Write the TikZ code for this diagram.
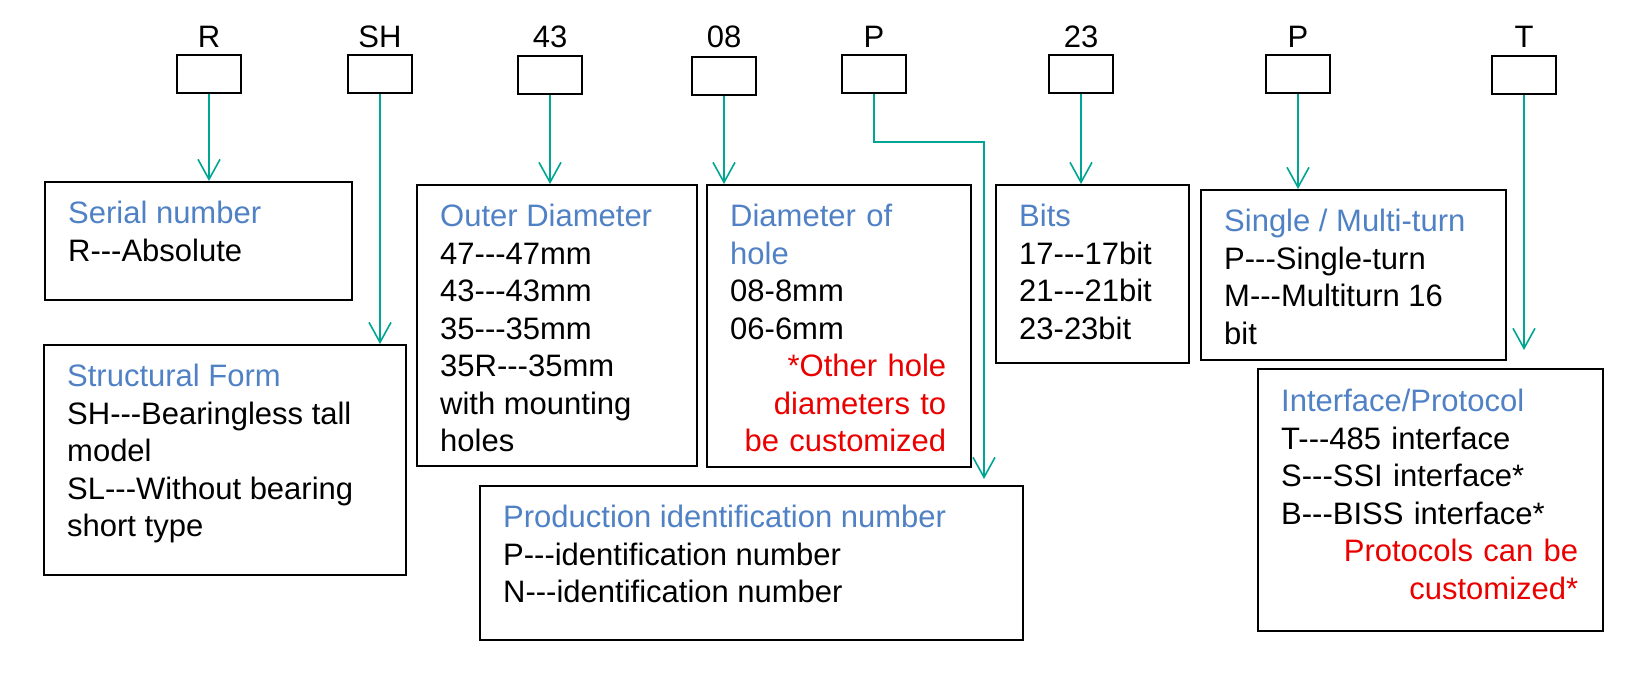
\documentclass[tikz,border=0pt]{standalone}
\usepackage{fontspec}
\setmainfont{Liberation Sans}[Ligatures=NoCommon]
\usetikzlibrary{arrows.meta}
\definecolor{hblue}{RGB}{79,129,196}
\definecolor{teal2}{RGB}{0,166,147}
\definecolor{hred}{RGB}{235,0,0}
\tikzset{
  codebox/.style={draw, line width=2pt, minimum width=64pt, minimum height=38pt, inner sep=0},
  codelbl/.style={font=\fontsize{31pt}{36pt}\selectfont, inner sep=0},
  cbox/.style={draw, line width=2pt, anchor=north west, inner sep=0},
  txt/.style={anchor=north west, inner sep=0, align=left, font=\fontsize{31pt}{37.5pt}\selectfont},
  arr/.style={draw=teal2, line width=1.8pt, -{Straight Barb[length=20pt,width=22pt,line width=1.6pt]}}
}
\newcommand{\hd}[1]{\textcolor{hblue}{#1}}
\newcommand{\rd}[1]{\hspace*{\fill}\textcolor{hred}{#1}}
\newcommand{\dd}{-{}-{}-}
\begin{document}
\begin{tikzpicture}[x=1pt,y=-1pt]
\useasboundingbox (0,0) rectangle (1648,676);
% code boxes
\node[codebox] (bR)  at (209,74) {};
\node[codebox] (bSH) at (380,74) {};
\node[codebox] (b43) at (550,75) {};
\node[codebox] (b08) at (724,76) {};
\node[codebox] (bP)  at (874,74) {};
\node[codebox] (b23) at (1081,74) {};
\node[codebox] (bP2) at (1298,74) {};
\node[codebox] (bT)  at (1524,75) {};
\node[codelbl] (lR)  at (209,37) {R};
\node[codelbl] (lSH) at (380,37) {SH};
\node[codelbl] (l43) at (550,37) {43};
\node[codelbl] (l08) at (724,37) {08};
\node[codelbl] (lP)  at (874,37) {P};
\node[codelbl] (l23) at (1081,37) {23};
\node[codelbl] (lP2) at (1298,37) {P};
\node[codelbl] (lT)  at (1524,37) {T};
% content boxes
\node[cbox, minimum width=307pt, minimum height=118pt] (serial) at (44,181) {};
\node[cbox, minimum width=362pt, minimum height=230pt] (struct) at (43,344) {};
\node[cbox, minimum width=280pt, minimum height=281pt] (outer) at (416,184) {};
\node[cbox, minimum width=264pt, minimum height=282pt] (diam) at (706,184) {};
\node[cbox, minimum width=543pt, minimum height=154pt] (prod) at (479,485) {};
\node[cbox, minimum width=193pt, minimum height=178pt] (bits) at (995,184) {};
\node[cbox, minimum width=305pt, minimum height=170pt] (single) at (1200,189) {};
\node[cbox, minimum width=345pt, minimum height=262pt] (iface) at (1257,368) {};
% texts
\node[txt] (tserial) at ([shift={(24,20)}]serial.north west) {\hd{Serial number}\\R\dd Absolute};
\node[txt] (tstruct) at ([shift={(24,20)}]struct.north west) {\hd{Structural Form}\\SH\dd Bearingless tall\\model\\SL\dd Without bearing\\short type};
\node[txt] (touter) at ([shift={(24,20)}]outer.north west) {\hd{Outer Diameter}\\47\dd 47mm\\43\dd 43mm\\35\dd 35mm\\35R\dd 35mm\\with mounting\\holes};
\node[txt, text width=216pt] (tdiam) at ([shift={(24,20)}]diam.north west) {\hd{Diameter of}\\\hd{hole}\\08-8mm\\06-6mm\\\rd{*Other hole}\\\rd{diameters to}\\\rd{be customized}};
\node[txt] (tprod) at ([shift={(24,20)}]prod.north west) {\hd{Production identification number}\\P\dd identification number\\N\dd identification number};
\node[txt] (tbits) at ([shift={(24,20)}]bits.north west) {\hd{Bits}\\17\dd 17bit\\21\dd 21bit\\23-23bit};
\node[txt] (tsingle) at ([shift={(24,20)}]single.north west) {\hd{Single / Multi-turn}\\P\dd Single-turn\\M\dd Multiturn 16\\bit};
\node[txt, text width=297pt] (tiface) at ([shift={(24,21)}]iface.north west) {\hd{Interface/Protocol}\\T\dd 485 interface\\S\dd SSI interface*\\B\dd BISS interface*\\\rd{Protocols can be}\\\rd{customized*}};
% connectors
\draw[arr] (bR.south) -- (bR.south |- serial.north);
\draw[arr] (bSH.south) -- (bSH.south |- struct.north);
\draw[arr] (b43.south) -- (b43.south |- outer.north);
\draw[arr] (b08.south) -- (b08.south |- diam.north);
\coordinate (pc) at (984,142);
\draw[arr, shorten >=6pt] (bP.south) |- (pc) -- (pc |- prod.north);
\draw[arr] (b23.south) -- (b23.south |- bits.north);
\draw[arr] (bP2.south) -- (bP2.south |- single.north);
\draw[arr, shorten >=18pt] (bT.south) -- (bT.south |- iface.north);
\end{tikzpicture}
\end{document}
